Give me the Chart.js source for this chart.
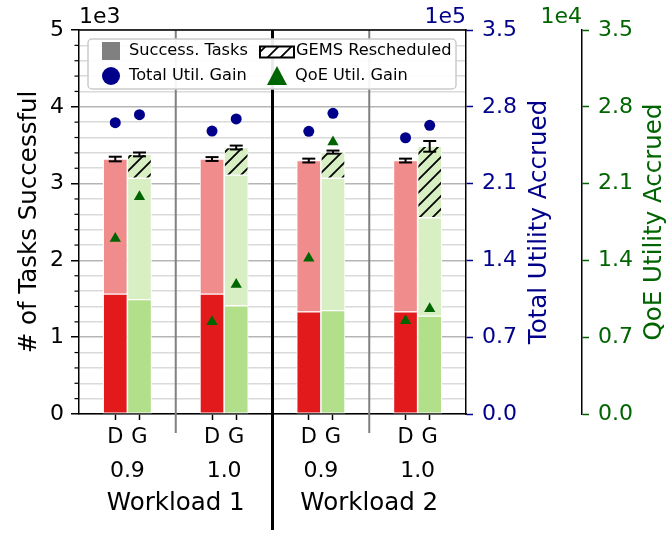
<!DOCTYPE html>
<html>
<head>
<meta charset="utf-8">
<script src="https://cdn.jsdelivr.net/npm/chart.js@4.4.1/dist/chart.umd.min.js"></script>
<style>
  body { margin: 0; background: #fff; }
</style>
</head>
<body>
<canvas id="chart" width="668" height="533"></canvas>
<script>
const groupLabels = ['0.9', '1.0', '0.9', '1.0'];
const workloadLabels = ['Workload 1', 'Workload 2'];
const policyLabels = ['D', 'G'];

// successful tasks (D = baseline, G = GEMS)
const dBase = [1560, 1560, 1330, 1330];
const dTotal = [3320, 3320, 3300, 3300];
const dErr = [30, 25, 25, 25];
const gBase = [1490, 1410, 1345, 1275];
const gPlain = [3070, 3110, 3070, 2555];   // top of the part that was not rescheduled
const gTotal = [3380, 3470, 3410, 3485];
const gErr = [25, 25, 20, 70];

// utility gained
const dTotalUtil = [265500, 257900, 257700, 251800];
const gTotalUtil = [272800, 268900, 274100, 263100];
const dQoeUtil = [16000, 8400, 14200, 8500];
const gQoeUtil = [19800, 11800, 24800, 9600];

const FONT = 'DejaVu Sans';
const BLUE = '#00008b';
const GREEN = '#006400';

const dX = groupLabels.map((_, i) => i + 0.375);
const gX = groupLabels.map((_, i) => i + 0.625);
const tickX = [];
groupLabels.forEach((_, i) => tickX.push(dX[i], gX[i]));

function makeHatch(bg) {
  const c = document.createElement('canvas');
  c.width = 13; c.height = 13;
  const g = c.getContext('2d');
  g.fillStyle = bg;
  g.fillRect(0, 0, 13, 13);
  g.strokeStyle = '#000';
  g.lineWidth = 1.8;
  g.beginPath();
  g.moveTo(-2, 15); g.lineTo(15, -2);
  g.moveTo(-2, 2); g.lineTo(2, -2);
  g.moveTo(11, 15); g.lineTo(15, 11);
  g.stroke();
  return g.createPattern(c, 'repeat');
}

function barSet(label, xs, lows, highs, color) {
  return {
    type: 'bar',
    label,
    order: 2,
    backgroundColor: color,
    borderColor: '#fff',
    borderWidth: 1,
    borderSkipped: false,
    barThickness: 24,
    data: xs.map((x, i) => ({ x, y: [lows[i], highs[i]] }))
  };
}

function pointSet(label, xs, ys, axis, color, style, radius) {
  return {
    type: 'scatter',
    label,
    order: 1,
    yAxisID: axis,
    pointStyle: style,
    pointRadius: radius,
    pointHoverRadius: radius,
    backgroundColor: color,
    borderColor: color,
    borderWidth: 0,
    data: xs.map((x, i) => ({ x, y: ys[i] }))
  };
}

const zeros = groupLabels.map(() => 0);

const datasets = [
  barSet('D base', dX, zeros, dBase, '#e31a1c'),
  barSet('D rest', dX, dBase, dTotal, '#f18c8d'),
  barSet('G base', gX, zeros, gBase, '#b2df8a'),
  barSet('G rest', gX, gBase, gPlain, '#d8efc4'),
  barSet('GEMS Rescheduled', gX, gPlain, gTotal, makeHatch('#d8efc4')),
  pointSet('Total Util. Gain', dX, dTotalUtil, 'y2', BLUE, 'circle', 5.5),
  pointSet('Total Util. Gain G', gX, gTotalUtil, 'y2', BLUE, 'circle', 5.5),
  pointSet('QoE Util. Gain', dX, dQoeUtil, 'y3', GREEN, 'triangle', 6.5),
  pointSet('QoE Util. Gain G', gX, gQoeUtil, 'y3', GREEN, 'triangle', 6.5)
];

function text(ctx, str, x, y, size, color, align, baseline, rot) {
  ctx.save();
  ctx.font = size + 'px "' + FONT + '"';
  ctx.fillStyle = color;
  ctx.textAlign = align;
  ctx.textBaseline = baseline;
  ctx.translate(x, y);
  if (rot) ctx.rotate(rot);
  ctx.fillText(str, 0, 0);
  ctx.restore();
}

function line(ctx, x1, y1, x2, y2, color, width) {
  ctx.save();
  ctx.strokeStyle = color;
  ctx.lineWidth = width;
  ctx.beginPath();
  ctx.moveTo(x1, y1);
  ctx.lineTo(x2, y2);
  ctx.stroke();
  ctx.restore();
}

const decor = {
  id: 'decor',
  beforeDatasetsDraw(chart) {
    const { ctx, chartArea: a, scales: { x } } = chart;
    [1, 3].forEach(v => {
      const px = x.getPixelForValue(v);
      line(ctx, px, a.top, px, 433, '#808080', 2);
    });
  },
  afterDatasetsDraw(chart) {
    const { ctx, scales: { x, y } } = chart;
    const errBars = (xs, vals, errs) => xs.forEach((xv, i) => {
      const px = x.getPixelForValue(xv);
      const t = y.getPixelForValue(vals[i] + errs[i]);
      const b = y.getPixelForValue(vals[i] - errs[i]);
      line(ctx, px, t, px, b, '#000', 2);
      line(ctx, px - 6.5, t, px + 6.5, t, '#000', 2);
      line(ctx, px - 6.5, b, px + 6.5, b, '#000', 2);
    });
    errBars(dX, dTotal, dErr);
    errBars(gX, gTotal, gErr);
  },
  afterDraw(chart) {
    const { ctx, chartArea: a, scales: { x, y, y3 } } = chart;

    // minor ticks on the left spine
    for (let v = 0; v <= 5000; v += 200) {
      if (v % 1000 === 0) continue;
      const py = y.getPixelForValue(v);
      line(ctx, a.left - 4.5, py, a.left, py, '#000', 1.2);
    }
    // top spine
    line(ctx, a.left - 0.75, a.top, a.right + 0.75, a.top, '#000', 1.5);
    // workload divider
    const mid = x.getPixelForValue(2);
    line(ctx, mid, a.top, mid, 530, '#000', 3);

    // exponent labels
    text(ctx, '1e3', a.left, 23, 22, '#000', 'left', 'alphabetic');
    text(ctx, '1e5', a.right, 23, 22, BLUE, 'right', 'alphabetic');
    text(ctx, '1e4', y3.left, 23, 22, GREEN, 'right', 'alphabetic');

    // axis titles
    const cy = (a.top + a.bottom) / 2;
    text(ctx, '# of Tasks Successful', 30, cy, 24.5, '#000', 'center', 'middle', -Math.PI / 2);
    text(ctx, 'Total Utility Accrued', 540, cy, 24.5, BLUE, 'center', 'middle', -Math.PI / 2);
    text(ctx, 'QoE Utility Accrued', 655, cy, 24.5, GREEN, 'center', 'middle', -Math.PI / 2);

    // group and workload labels
    groupLabels.forEach((g, i) => {
      text(ctx, g, x.getPixelForValue(i + 0.5), 471, 22, '#000', 'center', 'middle');
    });
    workloadLabels.forEach((w, i) => {
      text(ctx, w, x.getPixelForValue(1 + 2 * i), 504, 24.5, '#000', 'center', 'middle');
    });

    // legend
    ctx.save();
    ctx.beginPath();
    ctx.roundRect(88, 39, 368, 50, 4);
    ctx.fillStyle = 'rgba(255,255,255,0.92)';
    ctx.fill();
    ctx.strokeStyle = '#cccccc';
    ctx.lineWidth = 1.5;
    ctx.stroke();
    ctx.restore();

    ctx.fillStyle = '#808080';
    ctx.fillRect(102, 42, 18, 18);
    text(ctx, 'Success. Tasks', 129, 51, 16.2, '#000', 'left', 'middle');

    ctx.save();
    ctx.fillStyle = makeHatch('#fff');
    ctx.fillRect(260, 46.5, 34, 11);
    ctx.strokeStyle = '#000';
    ctx.lineWidth = 2;
    ctx.strokeRect(260, 46.5, 34, 11);
    ctx.restore();
    text(ctx, 'GEMS Rescheduled', 296, 51, 16.2, '#000', 'left', 'middle');

    ctx.save();
    ctx.fillStyle = BLUE;
    ctx.beginPath();
    ctx.arc(111, 76, 9, 0, Math.PI * 2);
    ctx.fill();
    ctx.fillStyle = GREEN;
    ctx.beginPath();
    ctx.moveTo(277, 66);
    ctx.lineTo(287, 85);
    ctx.lineTo(267, 85);
    ctx.closePath();
    ctx.fill();
    ctx.restore();
    text(ctx, 'Total Util. Gain', 129, 76, 16.2, '#000', 'left', 'middle');
    text(ctx, 'QoE Util. Gain', 295, 76, 16.2, '#000', 'left', 'middle');
  }
};

const tickFont = { family: FONT, size: 22 };

new Chart(document.getElementById('chart'), {
  type: 'bar',
  data: { datasets },
  plugins: [decor],
  options: {
    responsive: false,
    devicePixelRatio: 1,
    animation: false,
    layout: { padding: { top: 30, left: 0, right: 0, bottom: 0 } },
    plugins: {
      legend: { display: false },
      tooltip: { enabled: false }
    },
    scales: {
      x: {
        type: 'linear',
        min: 0,
        max: 4,
        offset: false,
        stacked: true,
        afterBuildTicks: s => { s.ticks = tickX.map(v => ({ value: v })); },
        afterFit: s => { s.height = 119; },
        ticks: {
          autoSkip: false,
          maxRotation: 0,
          padding: 5,
          color: '#000',
          font: { family: FONT, size: 21 },
          callback: (v, i) => policyLabels[i % 2]
        },
        grid: { drawOnChartArea: false, offset: false, tickLength: 6, tickColor: '#000', tickWidth: 1.5 },
        border: { color: '#000', width: 1.5 }
      },
      y: {
        position: 'left',
        min: 0,
        max: 5000,
        afterFit: s => { s.width = 79; },
        ticks: {
          stepSize: 200,
          autoSkip: false,
          padding: 7,
          color: '#000',
          font: tickFont,
          callback: v => (v % 1000 === 0 ? String(v / 1000) : '')
        },
        grid: {
          color: c => (c.tick && c.tick.value % 1000 === 0 ? '#b5b5b5' : '#dadada'),
          lineWidth: 1.5,
          tickLength: 8,
          tickWidth: 1.5,
          tickColor: c => (c.tick && c.tick.value % 1000 === 0 ? '#000' : 'rgba(0,0,0,0)')
        },
        border: { color: '#000', width: 1.5 }
      },
      y2: {
        position: 'right',
        weight: 0,
        min: 0,
        max: 350000,
        afterFit: s => { s.width = 116; },
        ticks: {
          stepSize: 70000,
          padding: 9,
          color: BLUE,
          font: tickFont,
          callback: v => (v / 1e5).toFixed(1)
        },
        grid: { drawOnChartArea: false, tickLength: 7, tickWidth: 1.5, tickColor: BLUE },
        border: { color: '#000', width: 1.5 }
      },
      y3: {
        position: 'right',
        weight: 1,
        min: 0,
        max: 35000,
        afterFit: s => { s.width = 86; },
        ticks: {
          stepSize: 7000,
          padding: 9,
          color: GREEN,
          font: tickFont,
          callback: v => (v / 1e4).toFixed(1)
        },
        grid: { drawOnChartArea: false, tickLength: 7, tickWidth: 1.5, tickColor: GREEN },
        border: { color: '#000', width: 1.5 }
      }
    }
  }
});
</script>
</body>
</html>
